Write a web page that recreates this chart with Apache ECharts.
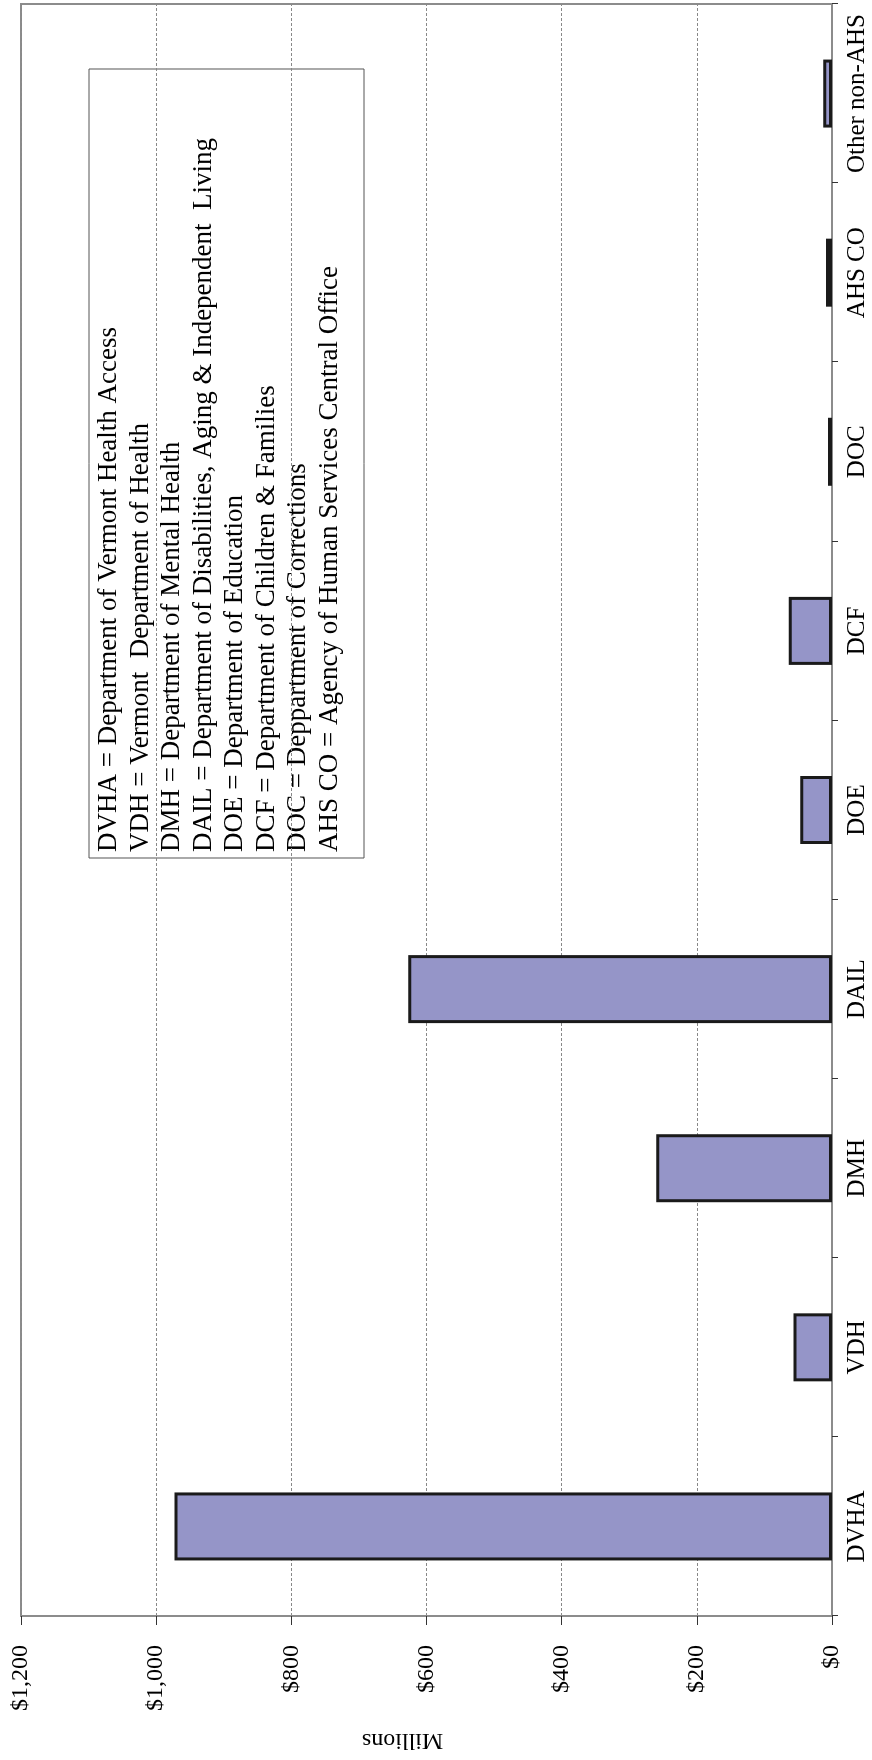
<!DOCTYPE html>
<html>
<head>
<meta charset="utf-8">
<script src="https://cdn.jsdelivr.net/npm/echarts@6/dist/echarts.min.js"></script>
<style>
  html, body { margin: 0; padding: 0; background: #ffffff; overflow: hidden; }
  #wrap { position: relative; width: 872px; height: 1760px; overflow: hidden; }
  #chart {
    position: absolute; left: 0; top: 0;
    width: 1760px; height: 872px;
    transform-origin: 0 0;
    transform: translateY(1760px) rotate(-90deg);
  }
</style>
</head>
<body>
<div id="wrap"><div id="chart"></div></div>
<script>
const categories = ['DVHA', 'VDH', 'DMH', 'DAIL', 'DOE', 'DCF', 'DOC', 'AHS CO', 'Other non-AHS'];
const spending = [973, 57, 260, 627, 47, 64, 6, 9, 13];
const valueMin = 0;
const valueMax = 1200;
const valueStep = 200;
const axisTitle = 'Millions';
const legendLines = [
  'DVHA = Department of Vermont Health Access',
  'VDH = Vermont  Department of Health',
  'DMH = Department of Mental Health',
  'DAIL = Department of Disabilities, Aging & Independent  Living',
  'DOE = Department of Education',
  'DCF = Department of Children & Families',
  'DOC = Deppartment of Corrections',
  'AHS CO = Agency of Human Services Central Office'
];

const serif = '"Liberation Serif", "DejaVu Serif", serif';
const chart = echarts.init(document.getElementById('chart'), null, { width: 1760, height: 872 });
chart.setOption({
  animation: false,
  backgroundColor: '#ffffff',
  grid: {
    left: 137, right: 4, top: 21, bottom: 40,
    show: true, borderColor: '#8c8c8c', borderWidth: 2, backgroundColor: 'transparent'
  },
  xAxis: {
    type: 'category',
    data: categories,
    axisLine: { show: true, lineStyle: { color: '#8c8c8c', width: 2 } },
    axisTick: { show: true, length: 6, interval: 0, lineStyle: { color: '#333', width: 1 } },
    axisLabel: { interval: 0, margin: 13, fontSize: 25, fontFamily: serif, color: '#000' }
  },
  yAxis: {
    type: 'value',
    min: valueMin, max: valueMax, interval: valueStep,
    name: axisTitle,
    nameLocation: 'middle',
    nameGap: 112,
    nameRotate: 90,
    nameTextStyle: { fontSize: 24, fontFamily: serif, color: '#000', padding: [0, 0, 0, 48] },
    axisLine: { show: true, lineStyle: { color: '#8c8c8c', width: 2 } },
    axisTick: { show: true, length: 9, lineStyle: { color: '#333', width: 1 } },
    axisLabel: {
      margin: 29, fontSize: 24, fontFamily: serif, color: '#000',
      formatter: v => '$' + v.toLocaleString('en-US')
    },
    splitLine: { show: true, lineStyle: { color: '#888', width: 1, type: [3, 2] } }
  },
  series: [{
    type: 'bar',
    data: spending,
    barWidth: 68,
    itemStyle: { color: '#9595c8', borderColor: '#1a1a1a', borderWidth: 3 }
  }],
  graphic: [{
    type: 'group',
    z: 100,
    children: [
      {
        type: 'rect',
        shape: { x: 902, y: 89, width: 789, height: 275 },
        style: { fill: '#ffffff', stroke: '#555', lineWidth: 1 }
      },
      {
        type: 'text',
        x: 908, y: 93.5,
        style: {
          text: legendLines.join('\n'),
          fontSize: 27, fontFamily: serif, lineHeight: 31.5,
          fill: '#000', verticalAlign: 'top', align: 'left'
        }
      }
    ]
  }]
});
</script>
</body>
</html>
